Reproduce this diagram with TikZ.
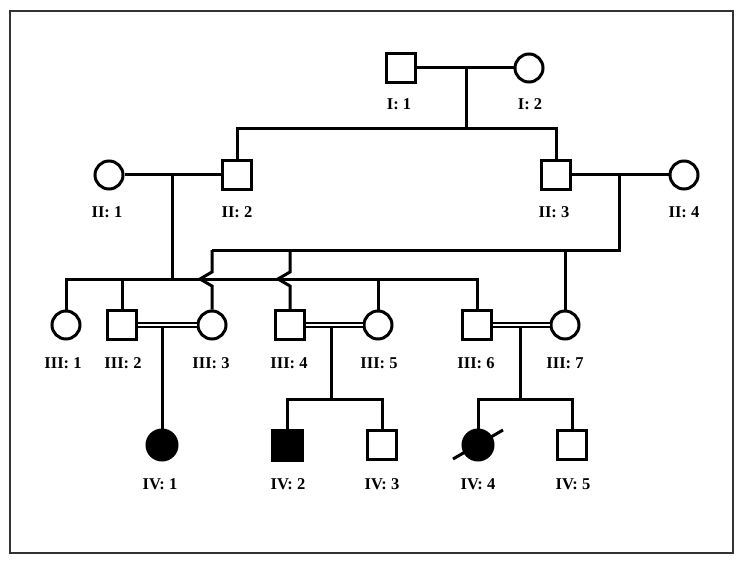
\documentclass[tikz,border=0pt]{standalone}
\usepackage{fontspec}
\setmainfont{Liberation Serif}
\begin{document}
\begin{tikzpicture}[x=1pt,y=-1pt, line width=3pt,
  male/.style={draw, rectangle, minimum size=28.5pt, inner sep=0pt, fill=white},
  female/.style={draw, circle, minimum size=28pt, inner sep=0pt, fill=white},
  affm/.style={draw, rectangle, minimum size=30pt, inner sep=0pt, fill=black},
  afff/.style={draw, circle, minimum size=30pt, inner sep=0pt, fill=black},
  lbl/.style={font=\bfseries\fontsize{16.5}{19}\selectfont, inner sep=0pt, anchor=base},
  consang/.style={double, double distance=2pt, line width=1.8pt},
  framebox/.style={draw=black!80, line width=2pt}]
\useasboundingbox (0,0) rectangle (744,564);
\draw[framebox] (10,11) rectangle (733,553);

% Generation I
\node[male] (I1) at (401,68) {};
\node[female] (I2) at (529,68) {};
% Generation II
\node[female] (II1) at (109,175) {};
\node[male] (II2) at (237,175) {};
\node[male] (II3) at (556,175) {};
\node[female] (II4) at (684,175) {};
% Generation III
\node[female] (III1) at (66,325) {};
\node[male] (III2) at (122,325) {};
\node[female] (III3) at (212,325) {};
\node[male] (III4) at (290,325) {};
\node[female] (III5) at (378,325) {};
\node[male] (III6) at (477,325) {};
\node[female] (III7) at (565,325) {};
% Generation IV
\node[afff] (IV1) at (162,445) {};
\node[affm] (IV2) at (287,445) {};
\node[male] (IV3) at (382,445) {};
\node[afff] (IV4) at (478,445) {};
\node[male] (IV5) at (572,445) {};

% junction coordinates
\coordinate (m1) at (466,68);
\coordinate (s1) at (466,129);
\coordinate (m2) at (172,175);
\coordinate (s2) at (172,279);
\coordinate (m3) at (619,175);
\coordinate (s3) at (619,250);
\coordinate (j1) at (212,250);
\coordinate (j2) at (290,250);
\coordinate (m4) at (162,325);
\coordinate (m5) at (331,325);
\coordinate (s5) at (331,399);
\coordinate (m6) at (520,325);
\coordinate (s6) at (520,399);

% Gen I
\draw (I1.east) -- (I2.west);
\draw (m1) -- (s1);
\draw (II2.north) |- (s1) -| (II3.north);
% Gen II marriages
\draw (II1.east) -- (II2.west);
\draw (II3.east) -- (II4.west);
% sibship of II1 x II2
\draw (m2) -- (s2);
\draw (III1.north) |- (s2) -| (III6.north);
\draw (III2.north) -- (III2.north |- s2);
\draw (III5.north) -- (III5.north |- s2);
% sibship of II3 x II4
\draw (m3) -- (s3) -- (j1);
\draw (j1) -- (212,272) -- (200,279) -- (212,286) -- (III3.north);
\draw (j2) -- (290,272) -- (278,279) -- (290,286) -- (III4.north);
\draw (III7.north) -- (III7.north |- s3);

% Gen III consanguineous marriages and descent
\draw (m4) -- (IV1.north);
\draw (m5) -- (s5);
\draw (IV2.north) |- (s5) -| (IV3.north);
\draw (m6) -- (s6);
\draw (IV4.north) |- (s6) -| (IV5.north);
\draw[consang] (III2.east) -- (III3.west);
\draw[consang] (III4.east) -- (III5.west);
\draw[consang] (III6.east) -- (III7.west);

% deceased
\draw (IV4.center) ++(-25,14) -- ++(50,-29);

% labels
\node[lbl] at (399,110) {I: 1};
\node[lbl] at (530,110) {I: 2};
\node[lbl] at (107,218) {II: 1};
\node[lbl] at (237,218) {II: 2};
\node[lbl] at (554,218) {II: 3};
\node[lbl] at (684,218) {II: 4};
\node[lbl] at (63,368) {III: 1};
\node[lbl] at (123,368) {III: 2};
\node[lbl] at (211,368) {III: 3};
\node[lbl] at (289,368) {III: 4};
\node[lbl] at (379,368) {III: 5};
\node[lbl] at (476,368) {III: 6};
\node[lbl] at (565,368) {III: 7};
\node[lbl] at (160,489) {IV: 1};
\node[lbl] at (288,489) {IV: 2};
\node[lbl] at (382,489) {IV: 3};
\node[lbl] at (478,489) {IV: 4};
\node[lbl] at (573,489) {IV: 5};
\end{tikzpicture}
\end{document}
